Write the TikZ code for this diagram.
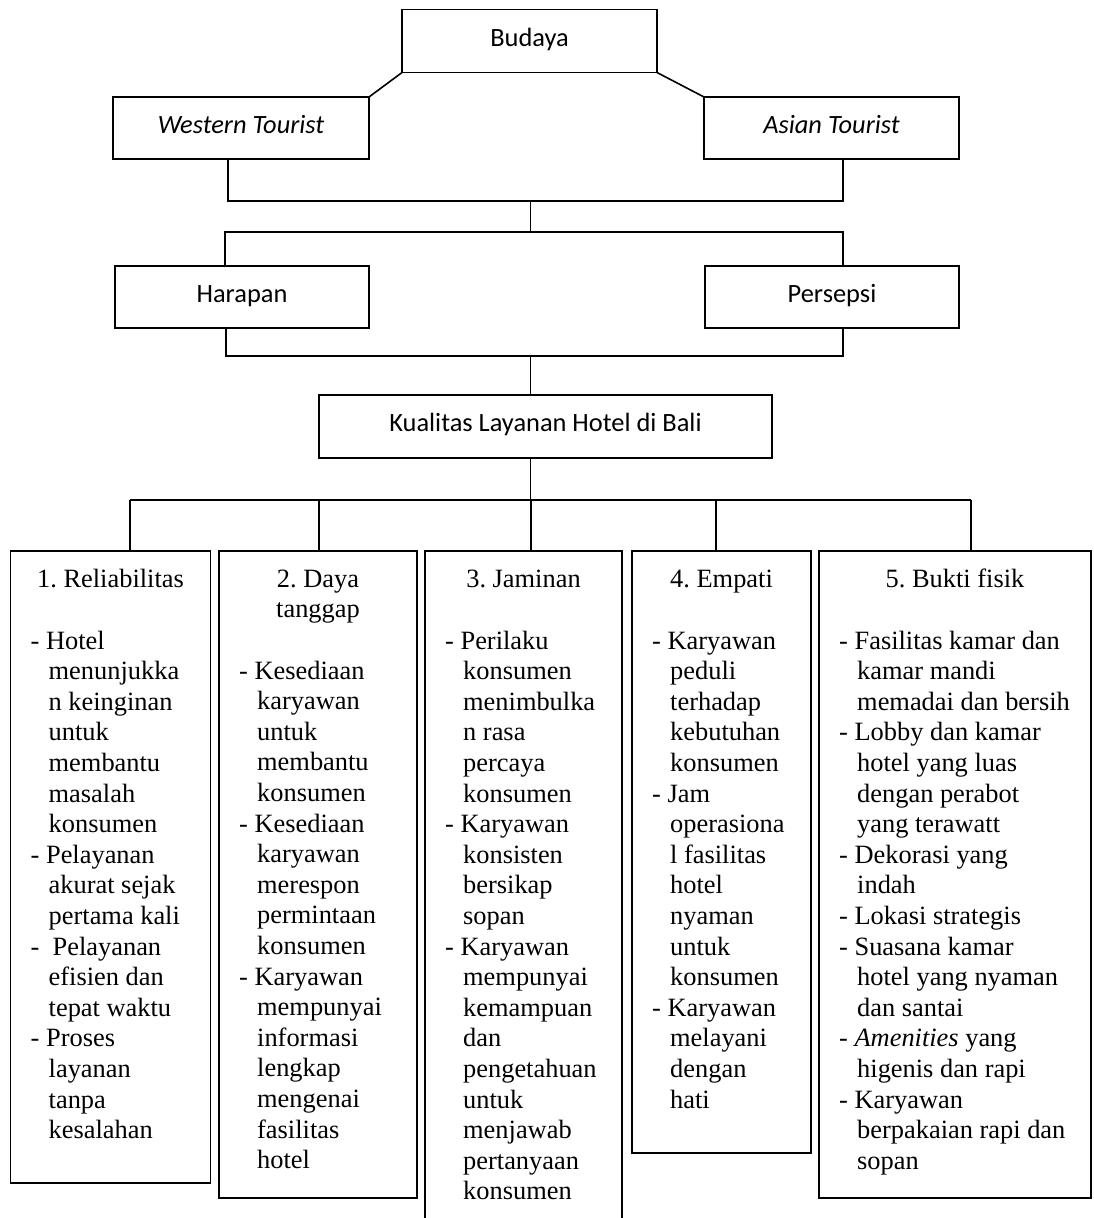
\documentclass[tikz,border=0pt]{standalone}
\usepackage{fontspec}
\setmainfont{Liberation Serif}
\newfontfamily\boxfont{Carlito}
\usepackage{tikz}
\usetikzlibrary{positioning,calc}
\frenchspacing
\newcommand{\sz}{\fontsize{26.4}{30.6}\selectfont}
\newcommand{\ind}{\hspace*{18pt}}
\tikzset{
	chart/.style={x=1pt, y=-1pt, line join=miter},
	frame/.style={draw, line width=1.1pt, inner sep=0pt, outer sep=0pt},
	topbox/.style={frame, font=\boxfont\sz, text height=18pt, text depth=8pt, minimum height=62pt},
	colbox/.style={frame, anchor=north west},
	wire/.style={line width=1.6pt},
	head/.style={inner sep=0pt, align=center, font=\sz},
	items/.style={inner sep=0pt, align=left, font=\sz},
}

\begin{document}
\begin{tikzpicture}[chart]
  \useasboundingbox (0,0) rectangle (1093,1218);
  % top part
  \node[topbox, minimum width=255pt, minimum height=63pt] (Bd) at (529.5,41) {Budaya};
  \node[topbox, minimum width=256pt] (WT) at (241,128) {\itshape Western Tourist};
  \node[topbox, minimum width=255pt] (AT) at (831.5,128) {\itshape Asian Tourist};
  \node[topbox, minimum width=254pt] (Hr) at (242,297) {Harapan};
  \node[topbox, minimum width=254pt] (Ps) at (832,297) {Persepsi};
  \node[topbox, minimum width=453pt, minimum height=63pt] (KL) at (545.5,426.5) {Kualitas Layanan Hotel di Bali};
  \coordinate (j1) at (530.5,201);
  \coordinate (j2) at (530.5,232);
  \coordinate (j3) at (530.5,356);
  \coordinate (j4) at (530.5,500);
  \draw[wire] (Bd.south west) -- (WT.north east);
  \draw[wire] (Bd.south east) -- (AT.north west);
  \draw[wire] ([xshift=-13pt]WT.south) |- (j1) -| ([xshift=11.5pt]AT.south);
  \draw[wire] (j1) -- (j2);
  \draw[wire] ([xshift=-17pt]Hr.north) |- (j2) -| ([xshift=11pt]Ps.north);
  \draw[wire] ([xshift=-16pt]Hr.south) |- (j3) -| ([xshift=11pt]Ps.south);
  \draw[wire] (j3) -- (KL.north -| j3);
  \draw[wire] (KL.south -| j4) -- (j4);
  % dimensions
  \node[colbox, minimum width=200pt, minimum height=632pt] (D1) at (10.5,551) {};
  \node[colbox, minimum width=198pt, minimum height=647pt] (D2) at (219,551) {};
  \node[colbox, minimum width=197pt, minimum height=700pt] (D3) at (425,551) {};
  \node[colbox, minimum width=179pt, minimum height=602pt] (D4) at (632,551) {};
  \node[colbox, minimum width=272pt, minimum height=647pt] (D5) at (819,551) {};
  \foreach \n/\dx in {1/19.5,2/1,3/7.5,4/-5.5,5/16}
    \coordinate (t\n) at ([xshift=\dx pt]D\n.north);
  \draw[wire] (t1 |- j4) -- (t5 |- j4);
  \foreach \n in {1,...,5}
    \draw[wire] (t\n |- j4) -- (t\n);
  \node[head, below=14.6pt of D1.north] (H1) {\strut 1. Reliabilitas};
  \node[head, below=14.6pt of D2.north] (H2) {\strut 2. Daya\\tanggap};
  \node[head, below=14.6pt of D3.north] (H3) {\strut 3. Jaminan};
  \node[head, below=14.6pt of D4.north] (H4) {\strut 4. Empati};
  \node[head, below=14.6pt of D5.north] (H5) {\strut 5. Bukti fisik};
  \node[items, below right=76.4pt and 20pt of D1.north west] (L1) {\strut - Hotel\\
    \ind menunjukka\\ \ind n keinginan\\ \ind untuk\\ \ind membantu\\ \ind masalah\\ \ind konsumen\\
    - Pelayanan\\ \ind akurat sejak\\ \ind pertama kali\\
    -\ \ Pelayanan\\ \ind efisien dan\\ \ind tepat waktu\\
    - Proses\\ \ind layanan\\ \ind tanpa\\ \ind kesalahan};
  \node[items, below right=106.4pt and 20pt of D2.north west] (L2) {\strut - Kesediaan\\
    \ind karyawan\\ \ind untuk\\ \ind membantu\\ \ind konsumen\\
    - Kesediaan\\ \ind karyawan\\ \ind merespon\\ \ind permintaan\\ \ind konsumen\\
    - Karyawan\\ \ind mempunyai\\ \ind informasi\\ \ind lengkap\\ \ind mengenai\\ \ind fasilitas\\ \ind hotel};
  \node[items, below right=76.4pt and 20pt of D3.north west] (L3) {\strut - Perilaku\\
    \ind konsumen\\ \ind menimbulka\\ \ind n rasa\\ \ind percaya\\ \ind konsumen\\
    - Karyawan\\ \ind konsisten\\ \ind bersikap\\ \ind sopan\\
    - Karyawan\\ \ind mempunyai\\ \ind kemampuan\\ \ind dan\\ \ind pengetahuan\\ \ind untuk\\ \ind menjawab\\ \ind pertanyaan\\ \ind konsumen};
  \node[items, below right=76.4pt and 20pt of D4.north west] (L4) {\strut - Karyawan\\
    \ind peduli\\ \ind terhadap\\ \ind kebutuhan\\ \ind konsumen\\
    - Jam\\ \ind operasiona\\ \ind l fasilitas\\ \ind hotel\\ \ind nyaman\\ \ind untuk\\ \ind konsumen\\
    - Karyawan\\ \ind melayani\\ \ind dengan\\ \ind hati};
  \node[items, below right=76.4pt and 20pt of D5.north west] (L5) {\strut - Fasilitas kamar dan\\
    \ind kamar mandi\\ \ind memadai dan bersih\\
    - Lobby dan kamar\\ \ind hotel yang luas\\ \ind dengan perabot\\ \ind yang terawatt\\
    - Dekorasi yang\\ \ind indah\\
    - Lokasi strategis\\
    - Suasana kamar\\ \ind hotel yang nyaman\\ \ind dan santai\\
    - \textit{Amenities} yang\\ \ind higenis dan rapi\\
    - Karyawan\\ \ind berpakaian rapi dan\\ \ind sopan};
\end{tikzpicture}
\end{document}
